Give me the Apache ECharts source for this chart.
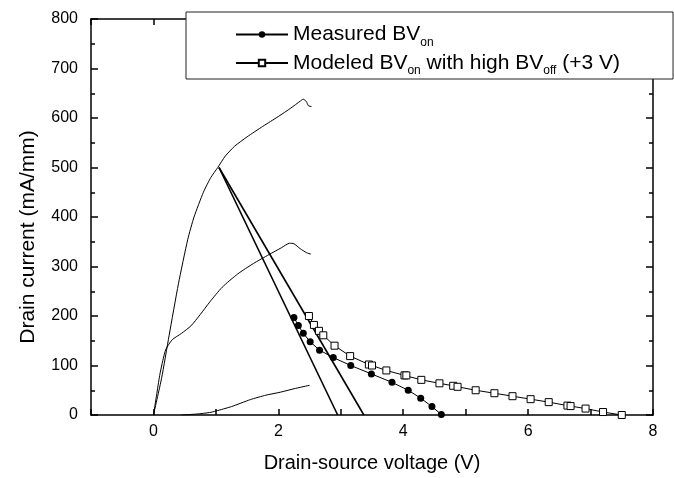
<!DOCTYPE html>
<html>
<head>
<meta charset="utf-8">
<script src="https://cdn.jsdelivr.net/npm/echarts@6/dist/echarts.min.js"></script>
<style>html,body{margin:0;padding:0;background:#fff;}#c{width:674px;height:478px;}</style>
</head>
<body>
<div id="c"></div>
<script>
// ---- data ----
const xTicks = [0, 2, 4, 6, 8];
const yTicks = [0, 100, 200, 300, 400, 500, 600, 700, 800];

const measuredV = [2.25, 2.32, 2.40, 2.51, 2.66, 2.88, 3.16, 3.49, 3.82, 4.08, 4.28, 4.46, 4.61];
const measuredI = [197, 181, 165, 148, 131, 116, 100, 83, 66, 50, 34, 17, 1];

const modeledV = [2.49, 2.57, 2.65, 2.72, 2.90, 3.15, 3.45, 3.50, 3.73, 4.02, 4.05, 4.29, 4.58, 4.80, 4.87, 5.16, 5.46, 5.75, 6.04, 6.33, 6.63, 6.68, 6.92, 7.20, 7.50];
const modeledI = [200, 182, 170, 161, 140, 119, 102, 100, 90, 80, 80, 71, 64, 59, 57, 50, 44, 38, 32, 26, 19, 18, 13, 6, 0];

const highV = [0, 0.13, 0.25, 0.4, 0.55, 0.65, 0.8, 0.92, 1.03, 1.15, 1.3, 1.5, 1.75, 2.0, 2.2, 2.35, 2.4, 2.45, 2.48, 2.53];
const highI = [0, 74, 160, 265, 355, 400, 450, 480, 500, 523, 543, 562, 583, 603, 620, 634, 638, 633, 625, 623];

const midV = [0, 0.05, 0.1, 0.15, 0.2, 0.3, 0.45, 0.6, 0.75, 0.9, 1.1, 1.35, 1.6, 1.85, 2.05, 2.18, 2.25, 2.35, 2.45, 2.52];
const midI = [0, 40, 80, 110, 133, 152, 165, 180, 203, 228, 258, 285, 306, 324, 338, 347, 346, 336, 328, 325];

const lowV = [0.45, 0.7, 0.9, 1.0, 1.25, 1.55, 1.8, 2.03, 2.25, 2.5];
const lowI = [0, 2, 5, 8, 17, 31, 40, 46, 53, 60];

const load1V = [1.05, 2.95];
const load1I = [500, 0];
const load2V = [1.05, 3.37];
const load2I = [500, 0];

const nameMeasured = 'Measured BVon';
const nameModeled = 'Modeled BVon with high BVoff (+3 V)';

// ---- build ----
const zip = (a, b) => a.map((v, i) => [v, b[i]]);
const FONT = "'Liberation Sans', Arial, Helvetica, sans-serif";

const chart = echarts.init(document.getElementById('c'), null, {renderer: 'canvas'});

const axisCommon = {
  axisLine: {show: true, onZero: false, lineStyle: {color: '#000', width: 1.5}},
  splitLine: {show: false},
};

const option = {
  backgroundColor: '#fff',
  animation: false,
  grid: {left: 91, right: 21, top: 19, bottom: 61, containLabel: false},
  legend: {
    show: true,
    data: [nameMeasured, nameModeled],
    orient: 'vertical',
    left: 186,
    top: 12,
    padding: [12, 53, 2, 49],
    itemGap: 4,
    itemWidth: 52,
    itemHeight: 8,
    backgroundColor: '#fff',
    borderColor: '#222',
    borderWidth: 1,
    borderRadius: 0,
    textStyle: {
      fontFamily: FONT, fontSize: 21, color: '#000',
      rich: {
        m: {fontFamily: FONT, fontSize: 21, color: '#000', lineHeight: 28},
        s: {fontFamily: FONT, fontSize: 12, color: '#000', lineHeight: 12, verticalAlign: 'bottom'}
      }
    },
    formatter: function (name) {
      if (name === nameMeasured) return '{m|Measured BV}{s|on}';
      return '{m|Modeled BV}{s|on}{m| with high BV}{s|off}{m| (+3 V)}';
    }
  },
  xAxis: [
    Object.assign({}, axisCommon, {
      type: 'value', position: 'bottom', min: -1, max: 8, interval: 1,
      name: 'Drain-source voltage (V)', nameLocation: 'middle', nameGap: 38,
      nameTextStyle: {fontFamily: FONT, fontSize: 20, color: '#000'},
      axisTick: {show: true, inside: true, length: 6, lineStyle: {color: '#000', width: 1.5}},
      axisLabel: {
        fontFamily: FONT, fontSize: 16, color: '#000', margin: 9,
        formatter: function (v) { return xTicks.indexOf(v) >= 0 ? String(v) : ''; }
      }
    }),
    Object.assign({}, axisCommon, {
      type: 'value', position: 'top', min: -1, max: 8, interval: 1,
      axisTick: {show: true, inside: true, length: 6, lineStyle: {color: '#000', width: 1.5}},
      axisLabel: {show: false}
    })
  ],
  yAxis: [
    Object.assign({}, axisCommon, {
      type: 'value', position: 'left', min: 0, max: 800, interval: 100,
      name: 'Drain current (mA/mm)', nameLocation: 'middle', nameGap: 52,
      nameTextStyle: {fontFamily: FONT, fontSize: 21, color: '#000', padding: [0, 40, 0, 0]},
      axisTick: {show: true, inside: true, length: 7, lineStyle: {color: '#000', width: 1.5}},
      minorTick: {show: true, splitNumber: 2, length: 4, lineStyle: {color: '#000', width: 1.5}},
      axisLabel: {
        fontFamily: FONT, fontSize: 16, color: '#000', margin: 13,
        formatter: function (v) { return yTicks.indexOf(v) >= 0 ? String(v) : ''; }
      }
    }),
    Object.assign({}, axisCommon, {
      type: 'value', position: 'right', min: 0, max: 800, interval: 100,
      axisTick: {show: true, inside: true, length: 7, lineStyle: {color: '#000', width: 1.5}},
      minorTick: {show: true, splitNumber: 2, length: 4, lineStyle: {color: '#000', width: 1.5}},
      axisLabel: {show: false}
    })
  ],
  series: [
    {type: 'line', name: 'high', data: zip(highV, highI), showSymbol: false, symbol: 'none',
     lineStyle: {color: '#000', width: 1}, smooth: 0.2, z: 2},
    {type: 'line', name: 'mid', data: zip(midV, midI), showSymbol: false, symbol: 'none',
     lineStyle: {color: '#000', width: 1}, smooth: 0.2, z: 2},
    {type: 'line', name: 'low', data: zip(lowV, lowI), showSymbol: false, symbol: 'none',
     lineStyle: {color: '#000', width: 1}, smooth: 0.2, z: 2},
    {type: 'line', name: 'load1', data: zip(load1V, load1I), showSymbol: false, symbol: 'none',
     lineStyle: {color: '#000', width: 1.6}, z: 2},
    {type: 'line', name: 'load2', data: zip(load2V, load2I), showSymbol: false, symbol: 'none',
     lineStyle: {color: '#000', width: 1.6}, z: 2},
    {type: 'line', name: nameMeasured, data: zip(measuredV, measuredI),
     symbol: 'circle', symbolSize: 7, showSymbol: true,
     itemStyle: {color: '#000', borderColor: '#000', borderWidth: 0},
     lineStyle: {color: '#000', width: 1}, z: 3},
    {type: 'line', name: nameModeled, data: zip(modeledV, modeledI),
     symbol: 'rect', symbolSize: 7, showSymbol: true,
     itemStyle: {color: '#fff', borderColor: '#000', borderWidth: 1},
     lineStyle: {color: '#000', width: 1}, z: 3}
  ]
};
chart.setOption(option);
</script>
</body>
</html>
